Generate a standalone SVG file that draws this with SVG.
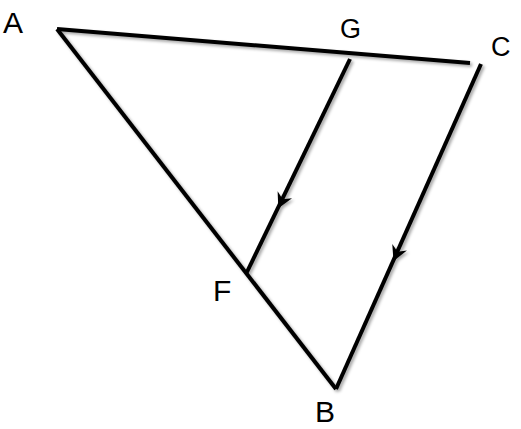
<svg xmlns="http://www.w3.org/2000/svg" xmlns:xlink="http://www.w3.org/1999/xlink" width="521" height="429" viewBox="0 0 521 429">
<style>
.ln{stroke:#000;stroke-width:4;fill:none;stroke-linecap:butt;stroke-linejoin:miter}
.lbl{font-family:"Liberation Sans",Arial,sans-serif;fill:#000}
.big{font-size:30px}
.sm{font-size:27px}
</style>
<defs>
<filter id="sh" x="-10%" y="-10%" width="120%" height="120%">
<feDropShadow dx="2" dy="2" stdDeviation="1.5" flood-color="#000" flood-opacity="0.35"/>
</filter>
<path id="ah" d="M0,0 L-15,-8 L-10,0 L-15,8 Z" fill="#000"/>
</defs>
<rect width="521" height="429" fill="#fff"/>
<g id="connectors" filter="url(#sh)">
<path class="ln" d="M57,29 L470,63"/>
<path class="ln" d="M57,29 L336,389"/>
<path class="ln" d="M481,64 L336,389"/>
<path class="ln" d="M350,59 L246,274"/>
<use xlink:href="#ah" transform="translate(278.3,208.3) rotate(115.8)"/>
<use xlink:href="#ah" transform="translate(393.5,261) rotate(114)"/>
</g>
<g id="A"><text class="lbl big" x="3" y="33">A</text></g>
<g id="G"><text class="lbl sm" x="340" y="38">G</text></g>
<g id="C"><text class="lbl sm" x="491" y="56">C</text></g>
<g id="F"><text class="lbl big" x="213" y="301">F</text></g>
<g id="B"><text class="lbl big" x="315" y="422">B</text></g>
</svg>
